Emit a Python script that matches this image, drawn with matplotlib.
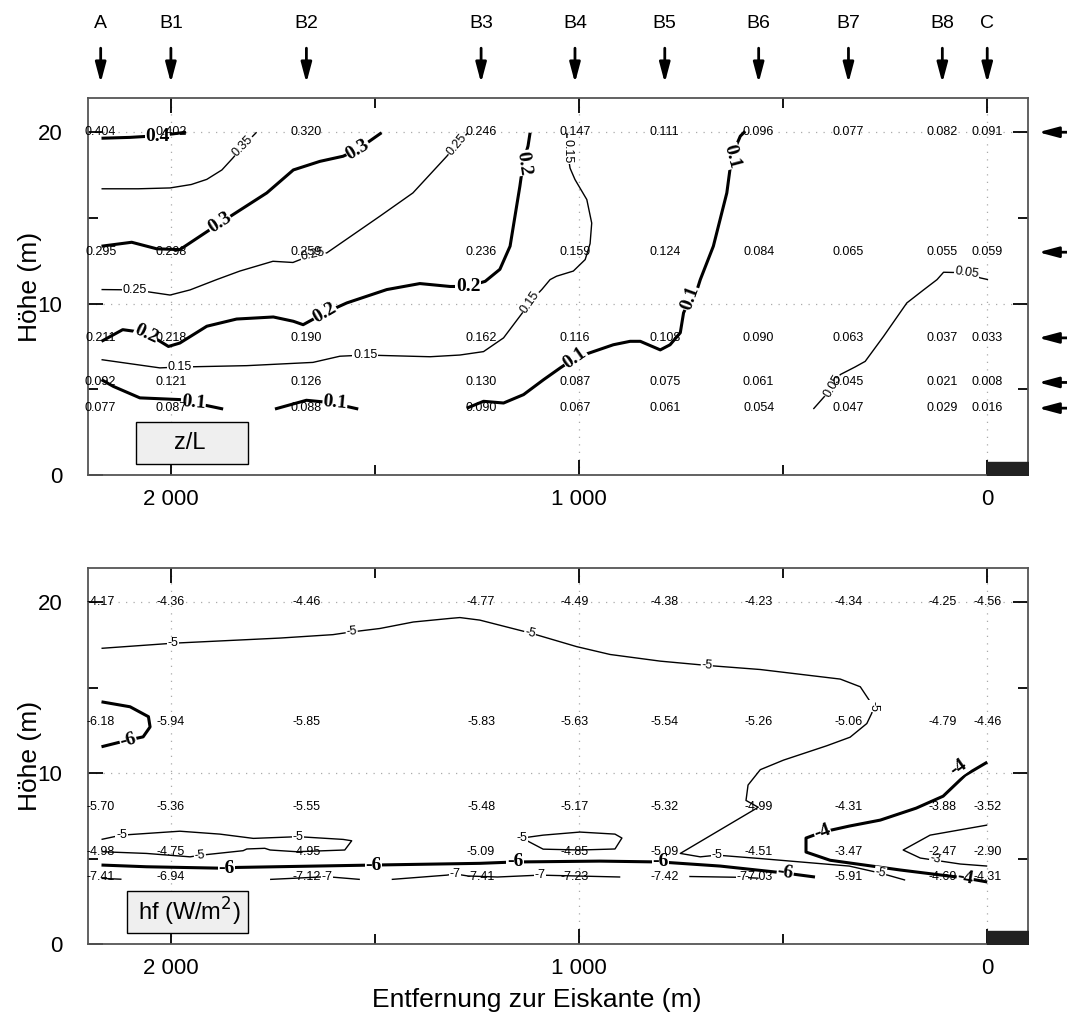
import matplotlib
matplotlib.use("Agg")
import matplotlib.pyplot as plt
import matplotlib.transforms as mtransforms
from matplotlib.patches import Rectangle

plt.rcParams['font.family'] = ['Liberation Sans', 'DejaVu Sans']

# Stations and measurement heights
stations = ['A', 'B1', 'B2', 'B3', 'B4', 'B5', 'B6', 'B7', 'B8', 'C']
dist = [2172, 2000, 1668, 1240, 1010, 790, 560, 340, 110, 0]
heights = [20, 13, 8, 5.4, 3.9]

# z/L at each height (rows) and station (columns)
zl = [
    [0.404, 0.402, 0.320, 0.246, 0.147, 0.111, 0.096, 0.077, 0.082, 0.091],
    [0.295, 0.298, 0.259, 0.236, 0.159, 0.124, 0.084, 0.065, 0.055, 0.059],
    [0.211, 0.218, 0.190, 0.162, 0.116, 0.108, 0.090, 0.063, 0.037, 0.033],
    [0.092, 0.121, 0.126, 0.130, 0.087, 0.075, 0.061, 0.045, 0.021, 0.008],
    [0.077, 0.087, 0.088, 0.090, 0.067, 0.061, 0.054, 0.047, 0.029, 0.016],
]

# sensible heat flux hf (W/m2)
hf = [
    [-4.17, -4.36, -4.46, -4.77, -4.49, -4.38, -4.23, -4.34, -4.25, -4.56],
    [-6.18, -5.94, -5.85, -5.83, -5.63, -5.54, -5.26, -5.06, -4.79, -4.46],
    [-5.70, -5.36, -5.55, -5.48, -5.17, -5.32, -4.99, -4.31, -3.88, -3.52],
    [-4.98, -4.75, -4.95, -5.09, -4.85, -5.09, -4.51, -3.47, -2.47, -2.90],
    [-7.41, -6.94, -7.12, -7.41, -7.23, -7.42, -7.03, -5.91, -4.69, -4.31],
]

# contour lines: (distance list, height list, thick?)
zl_lines = [
    ([2170, 2100, 2030, 1963], [19.65, 19.7, 19.8, 20.0], True),
    ([2170, 2080, 2002, 1950, 1912, 1875, 1848, 1823, 1790],
     [16.7, 16.7, 16.75, 16.95, 17.25, 17.8, 18.5, 19.2, 20.0], False),
    ([2170, 2096, 2035, 1978, 1880, 1765, 1700, 1635, 1578, 1542, 1484],
     [13.35, 13.58, 13.2, 13.15, 14.7, 16.46, 17.8, 18.3, 18.6, 19.0, 19.97], True),
    ([2170, 2088, 2002, 1953, 1888, 1831, 1750, 1701, 1652, 1618, 1488, 1407, 1324, 1300, 1272],
     [10.82, 10.8, 10.5, 10.8, 11.4, 11.9, 12.47, 12.4, 12.86, 12.96, 15.1, 16.46, 18.6, 19.28, 19.97], False),
    ([2170, 2118, 2060, 2006, 1978, 1912, 1839, 1749, 1700, 1676, 1623, 1569, 1471, 1390, 1316,
      1272, 1230, 1194, 1169, 1157, 1145, 1137, 1125, 1120],
     [7.8, 8.48, 8.29, 7.5, 7.7, 8.68, 9.1, 9.22, 8.97, 8.77, 9.46, 10.04, 10.82, 11.17, 11.0,
      11.0, 11.3, 12.0, 13.35, 15.1, 16.85, 18.2, 19.2, 19.97], True),
    ([1030, 1029, 1022, 1010, 981, 969, 973, 985, 1014, 1055, 1071, 1091, 1120, 1136, 1185,
      1234, 1292, 1365, 1524, 1586, 1652, 1814, 1978, 2027, 2170],
     [19.97, 18.9, 17.9, 17.24, 16.07, 14.7, 13.5, 12.57, 11.9, 11.6, 11.4, 10.83, 10.1, 9.55, 8.0,
      7.2, 7.0, 6.9, 7.0, 6.93, 6.57, 6.38, 6.3, 6.25, 6.73], False),
    ([1275, 1234, 1185, 1136, 1087, 1046, 1010, 965, 916, 875, 850, 801, 777, 752, 744, 728,
      711, 703, 671, 638, 626, 605, 593],
     [3.9, 4.3, 4.2, 4.69, 5.56, 6.25, 6.83, 7.2, 7.6, 7.8, 7.8, 7.3, 7.6, 8.3, 9.46, 10.3,
      10.8, 11.4, 13.35, 16.46, 18.6, 19.77, 20.06], True),
    ([2170, 2141, 2076, 1978, 1945, 1912, 1872], [5.56, 5.17, 4.5, 4.4, 4.2, 4.05, 3.85], True),
    ([1745, 1668, 1598, 1569, 1541], [3.85, 4.36, 4.2, 4.0, 3.85], True),
    ([426, 377, 360, 324, 299, 254, 197, 156, 123, 107, 50, 17, -2],
     [3.85, 5.17, 5.86, 6.3, 6.63, 8.09, 10.04, 10.8, 11.4, 11.83, 11.8, 11.5, 11.4], False),
]
# contour labels: (text, distance, height, rotation, thick?)
zl_labels = [
    ('0.4', 2032, 19.75, 0, True), ('0.35', 1823, 19.2, 46, False),
    ('0.3', 1880, 14.7, 33, True), ('0.3', 1542, 19.0, 31, True),
    ('0.25', 2088, 10.8, 0, False), ('0.25', 1652, 12.86, 12, False), ('0.25', 1300, 19.28, 50, False),
    ('0.2', 2060, 8.25, -25, True), ('0.2', 1623, 9.46, 30, True), ('0.2', 1272, 11.0, 0, True),
    ('0.2', 1137, 18.2, -82, True),
    ('0.15', 1029, 18.9, -90, False), ('0.15', 1120, 10.1, 55, False), ('0.15', 1524, 7.0, 0, False),
    ('0.15', 1978, 6.3, 0, False),
    ('0.1', 1010, 6.83, 35, True), ('0.1', 728, 10.3, 70, True), ('0.1', 626, 18.6, -75, True),
    ('0.1', 1945, 4.2, -5, True), ('0.1', 1598, 4.2, -5, True),
    ('0.05', 377, 5.17, 60, False), ('0.05', 50, 11.8, -8, False),
]

hf_lines = [
    ([2170, 1994, 1733, 1603, 1557, 1488, 1406, 1316, 1292, 1243, 1120, 1006, 924, 801, 687, 556,
      360, 311, 279, 283, 295, 336, 393, 499, 556, 586, 591, 561, 752, 703, 662, 556, 338, 262, 201],
     [17.3, 17.6, 17.9, 18.1, 18.26, 18.46, 18.84, 19.05, 19.1, 18.95, 18.2, 17.4, 16.94, 16.55, 16.3, 16.06,
      15.5, 15.05, 13.9, 13.5, 12.9, 12.1, 11.6, 10.76, 10.2, 9.3, 8.4, 8.0, 5.3, 5.1, 5.2, 5.0, 4.56, 4.15, 3.74],
     False),
    ([2170, 2100, 2055, 2051, 2068, 2105, 2170], [14.17, 13.88, 13.3, 12.7, 12.12, 11.93, 11.54], True),
    ([2170, 2121, 1978, 1880, 1798, 1688, 1578, 1557, 1574, 1692, 1757, 1770, 1814, 1823, 1929, 1953, 2060, 2170],
     [6.12, 6.37, 6.6, 6.43, 6.18, 6.28, 6.12, 6.04, 5.5, 5.4, 5.5, 5.6, 5.56, 5.46, 5.19, 5.1, 5.3, 5.4], False),
    ([1140, 1088, 998, 912, 895, 912, 998, 1088, 1140],
     [6.2, 6.37, 6.55, 6.43, 6.2, 5.56, 5.5, 5.55, 6.2], False),
    ([2170, 2060, 1863, 1839, 1504, 1243, 1157, 949, 801, 654, 495, 422],
     [4.62, 4.52, 4.43, 4.48, 4.62, 4.72, 4.8, 4.85, 4.8, 4.56, 4.15, 3.92], True),
    ([2170, 2121], [3.84, 3.79], False),
    ([1757, 1618, 1537], [3.78, 3.94, 3.78], False),
    ([1459, 1324, 1304, 1272, 1200, 1096, 899], [3.78, 4.03, 4.1, 3.98, 3.92, 4.03, 3.92], False),
    ([730, 600, 560], [3.95, 3.9, 3.85], False),
    ([0, 54, 108, 174, 262, 338, 404, 444, 444, 385, 213, 54, 0],
     [10.64, 9.88, 8.65, 7.95, 7.25, 6.9, 6.55, 6.2, 5.38, 4.9, 4.33, 3.86, 3.63], True),
    ([0, 140, 206, 164, 66, 0], [6.96, 6.37, 5.5, 5.03, 4.68, 4.56], False),
]
hf_labels = [
    ('-5', 1994, 17.6, 0, False), ('-5', 1557, 18.26, 5, False), ('-5', 1120, 18.2, -12, False),
    ('-5', 687, 16.3, -4, False), ('-5', 279, 13.9, -90, False),
    ('-6', 2105, 11.93, 15, True),
    ('-5', 2121, 6.37, 0, False), ('-5', 1688, 6.28, 0, False), ('-5', 1929, 5.19, 5, False),
    ('-5', 1140, 6.2, 0, False), ('-5', 662, 5.2, 0, False), ('-5', 262, 4.15, -10, False),
    ('-6', 1863, 4.43, 0, True), ('-6', 1504, 4.62, 0, True), ('-6', 1157, 4.8, 0, True),
    ('-6', 801, 4.8, 0, True), ('-6', 495, 4.15, -8, True),
    ('-7', 1618, 3.94, 0, False), ('-7', 1304, 4.1, 0, False), ('-7', 1096, 4.03, 0, False),
    ('-7', 600, 3.9, 0, False),
    ('-4', 71, 10.3, 35, True), ('-4', 404, 6.55, 20, True), ('-4', 54, 3.86, -10, True),
    ('-3', 127, 5.0, -10, False),
]

xticks = [2000, 1000, 0]
xticklabels = ['2 000', '1 000', '0']
yticks = [0, 10, 20]
ice_x = [0, -100]
ice_top = 0.75

fig = plt.figure(figsize=(10.67, 10.13), dpi=100)
ax1 = fig.add_axes([0.0825, 0.5311, 0.881, 0.3722])
ax2 = fig.add_axes([0.0825, 0.0681, 0.881, 0.3712])


def draw_panel(ax, values, fmt, lines, labels, title):
    ax.set_xlim(2203, -100)
    ax.set_ylim(0, 22)
    ax.set_xticks(xticks)
    ax.set_xticklabels(xticklabels, fontsize=16)
    ax.set_xticks([1500, 500], minor=True)
    ax.set_yticks(yticks)
    ax.set_yticks([5, 15], minor=True)
    ax.tick_params(axis='y', labelsize=16, pad=18.5)
    ax.tick_params(axis='x', pad=10)
    ax.tick_params(which='both', direction='in', top=True, right=True, color='k')
    ax.tick_params(which='major', length=11, width=1.3)
    ax.tick_params(which='minor', length=7, width=1.3)
    ax.grid(True, which='major', linestyle=(0, (1, 5)), color='#aaaaaa', lw=0.9)
    for s in ax.spines.values():
        s.set_color('#555555')
        s.set_linewidth(1.3)
    # y label placed at the reference position
    ax.text(-0.0615, 0.5, 'Höhe (m)', transform=ax.transAxes, rotation=90,
            ha='center', va='center', fontsize=19)

    for xs, ys, thick in lines:
        ax.plot(xs, ys, color='k', lw=2.2 if thick else 1.0, zorder=3,
                solid_joinstyle='round', solid_capstyle='butt')
    for txt, x, y, rot, thick in labels:
        if thick:
            ax.text(x, y, txt, rotation=rot, ha='center', va='center',
                    fontsize=14, fontweight='bold', family='Liberation Serif', zorder=4,
                    bbox=dict(boxstyle='square,pad=0.02', fc='white', ec='none'))
        else:
            ax.text(x, y, txt, rotation=rot, ha='center', va='center',
                    fontsize=9, zorder=4,
                    bbox=dict(boxstyle='square,pad=0.05', fc='white', ec='none'))

    for row, h in zip(values, heights):
        for v, x in zip(row, dist):
            ax.text(x, h, fmt.format(v), ha='center', va='center', fontsize=9, zorder=5)

    ax.fill_between(ice_x, 0, ice_top, color='#222222', zorder=6)
    ax.add_patch(Rectangle((title[1], 0.03), 0.1705 - title[1], 0.11, transform=ax.transAxes,
                           fc='#efefef', ec='k', lw=1.0, zorder=6))
    ax.text(0.108, 0.085, title[0], transform=ax.transAxes, ha='center', va='center',
            fontsize=17, zorder=7)


draw_panel(ax1, zl, '{:.3f}', zl_lines, zl_labels, ('z/L', 0.0507))
draw_panel(ax2, hf, '{:.2f}', hf_lines, hf_labels, ('hf (W/m$^2$)', 0.041))

# station markers above the top panel
trans = mtransforms.blended_transform_factory(ax1.transData, ax1.transAxes)
for name, x in zip(stations, dist):
    ax1.annotate('', xy=(x, 1.04), xytext=(x, 1.132), xycoords=trans, textcoords=trans,
                 arrowprops=dict(arrowstyle='-|>,head_length=1.2,head_width=0.32',
                                 lw=2, color='k', shrinkA=0, shrinkB=0))
    ax1.text(x, 1.198, name, transform=trans, ha='center', va='center', fontsize=14)

# measurement heights on the right
trans_r = mtransforms.blended_transform_factory(ax1.transAxes, ax1.transData)
for h in heights:
    ax1.annotate('', xy=(1.011, h), xytext=(1.0415, h), xycoords=trans_r, textcoords=trans_r,
                 arrowprops=dict(arrowstyle='-|>,head_length=1.2,head_width=0.32',
                                 lw=2, color='k', shrinkA=0, shrinkB=0), annotation_clip=False)

fig.text(537 / 1067, 1 - 1000 / 1013, 'Entfernung zur Eiskante (m)', ha='center', va='center',
         fontsize=19)

fig.savefig('out.png', dpi=100)
